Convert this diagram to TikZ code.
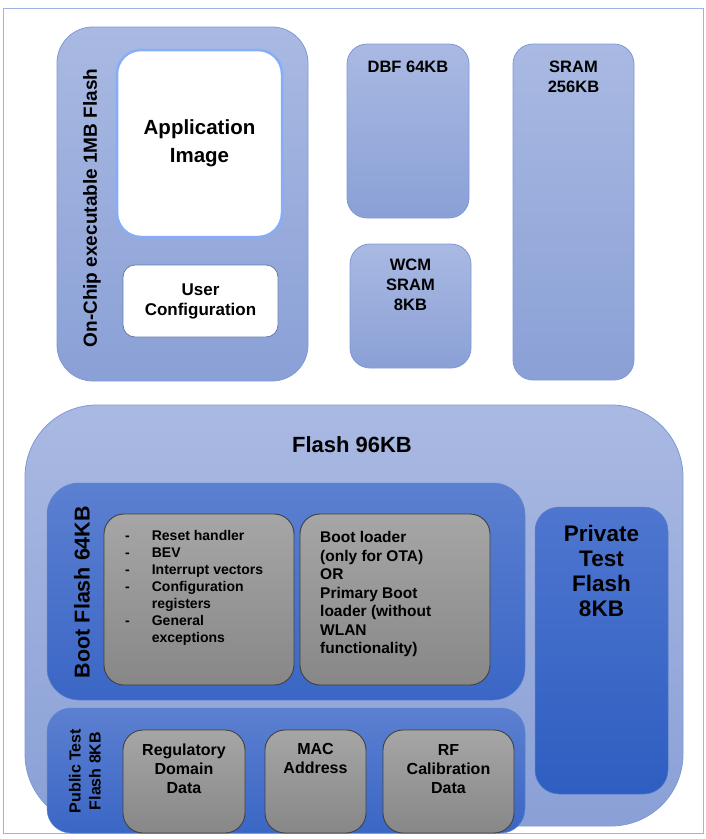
\documentclass[tikz,border=0pt]{standalone}
\usepackage{fontspec}
\setmainfont{Liberation Sans}
\usepackage{xcolor}
\usepackage{tikz}
\usetikzlibrary{positioning}

\definecolor{frameblue}{HTML}{9DB3E0}
\definecolor{paletop}{HTML}{A9B9E2}
\definecolor{palebot}{HTML}{8AA0D6}
\definecolor{paleedge}{HTML}{7F98D6}
\definecolor{deeptop}{HTML}{5C80D1}
\definecolor{deepbot}{HTML}{3A66C5}
\definecolor{privtop}{HTML}{4E76CF}
\definecolor{privbot}{HTML}{2E5EC1}
\definecolor{greytop}{HTML}{A6A6A6}
\definecolor{greybot}{HTML}{878787}
\definecolor{appedge}{HTML}{86ADF7}

\begin{document}
\begin{tikzpicture}[x=1pt, y=-1pt, every node/.style={inner sep=0pt, font=\bfseries},
  region/.style={draw=paleedge, line width=0.8pt, top color=paletop, bottom color=palebot},
  deep/.style={draw=deepbot!80!white, line width=0.5pt, top color=deeptop, bottom color=deepbot},
  greybox/.style={draw=black!75, line width=0.9pt, top color=greytop, bottom color=greybot, rounded corners=20pt},
  whitebox/.style={fill=white, align=center},
  txt/.style={align=center, font=\bfseries\fontsize{16.5}{20}\selectfont}]
  \useasboundingbox (0,0) rectangle (706,839);
  \node[draw=frameblue, line width=1pt, minimum width=700pt, minimum height=825pt] (chip) at (353,420.5) {};

  \node[region, rounded corners=36pt, minimum width=251pt, minimum height=354pt] (onchip) at (182.5,204) {};
  \node[whitebox, draw=appedge, line width=2.5pt, rounded corners=24pt, minimum width=165pt, minimum height=187pt,
    font=\bfseries\fontsize{20.5}{28}\selectfont] (app) at (199.5,143.5) {Application\\Image};
  \node[whitebox, draw=paleedge!80!black, line width=0.8pt, rounded corners=12pt, minimum width=155pt, minimum height=72pt,
    font=\bfseries\fontsize{17}{20}\selectfont] (usercfg) at (200.5,301) {User\\Configuration};
  \node[rotate=90, font=\bfseries\fontsize{19}{20}\selectfont] (onchip-lbl) at (92,208) {On-Chip executable 1MB Flash};

  \node[region, rounded corners=20pt, minimum width=122pt, minimum height=174pt] (dbf) at (408,131) {};
  \node[region, rounded corners=20pt, minimum width=121pt, minimum height=124pt] (wcm) at (410.5,306) {};
  \node[region, rounded corners=20pt, minimum width=121pt, minimum height=336pt] (sram) at (573.5,212) {};
  \node[txt] (dbf-lbl) at (408,67) {DBF 64KB};
  \node[txt] (wcm-lbl) at (410.5,285) {WCM\\SRAM\\8KB};
  \node[txt] (sram-lbl) at (573.5,77) {SRAM\\256KB};

  \node[region, rounded corners=72pt, minimum width=658pt, minimum height=421pt] (flash) at (354,615.5) {};
  \node[font=\bfseries\fontsize{22}{24}\selectfont] (flash-lbl) at (352,445) {Flash 96KB};

  \node[deep, rounded corners=32pt, minimum width=478pt, minimum height=217pt] (boot) at (286,591.5) {};
  \node[rotate=90, font=\bfseries\fontsize{21.5}{24}\selectfont] (boot-lbl) at (82,592) {Boot Flash 64KB};
  \node[greybox, minimum width=190pt, minimum height=171pt] (vectors) at (199,599.5) {};
  \node[greybox, minimum width=190pt, minimum height=171pt] (loader) at (395,599.5) {};
  \node[anchor=west, font=\bfseries\fontsize{14}{17}\selectfont] (vectors-lbl) at (125,588)
    {\begin{tabular}{@{}l@{\hspace{22pt}}l@{}}
      - & Reset handler\\
      - & BEV\\
      - & Interrupt vectors\\
      - & Configuration\\
        & registers\\
      - & General\\
        & exceptions
    \end{tabular}};
  \node[anchor=west, align=left, font=\bfseries\fontsize{15.5}{18.5}\selectfont] (loader-lbl) at (320,594)
    {Boot loader\\(only for OTA)\\OR\\Primary Boot\\loader (without\\WLAN\\functionality)};

  \node[deep, draw=privbot!80!white, top color=privtop, bottom color=privbot, rounded corners=24pt,
    minimum width=133pt, minimum height=287pt] (private) at (601.5,650.5) {};
  \node[align=center, font=\bfseries\fontsize{22.5}{25}\selectfont] (private-lbl) at (601.5,571) {Private\\Test\\Flash\\8KB};

  \node[deep, rounded corners=24pt, minimum width=478pt, minimum height=125pt] (public) at (286,770.5) {};
  \node[rotate=90, align=center, font=\bfseries\fontsize{16}{20}\selectfont] (public-lbl) at (85,771) {Public Test\\Flash 8KB};
  \foreach \nm/\cx/\w/\cy/\txt in {reg/184/122/769/{Regulatory\\Domain\\Data},
      mac/315.5/101/758.5/{MAC\\Address},
      rf/448.5/131/769/{RF\\Calibration\\Data}} {
    \node[greybox, minimum width=\w pt, minimum height=103pt] (\nm) at (\cx,781.5) {};
    \node[txt, font=\bfseries\fontsize{16}{19}\selectfont] (\nm-lbl) at (\cx,\cy) {\txt};
  }
\end{tikzpicture}
\end{document}
